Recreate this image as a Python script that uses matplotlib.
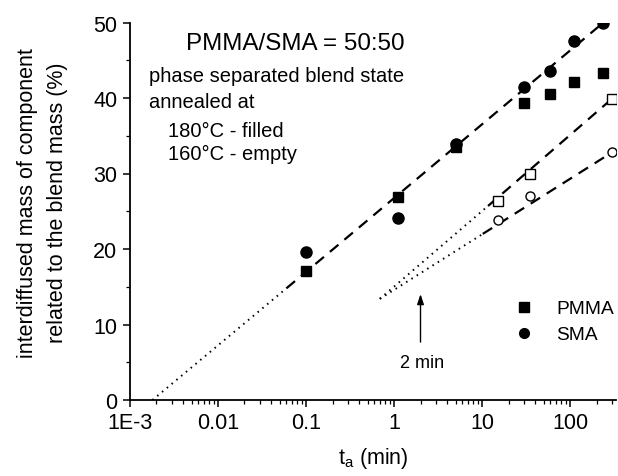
import matplotlib
matplotlib.use("Agg")
import matplotlib.pyplot as plt
from matplotlib.lines import Line2D
from matplotlib.ticker import FixedLocator, LogLocator, NullFormatter, MultipleLocator

plt.rcParams['font.family'] = ['Liberation Sans', 'DejaVu Sans']
plt.rcParams['mathtext.fontset'] = 'custom'
plt.rcParams['mathtext.rm'] = 'Liberation Sans'
plt.rcParams['mathtext.it'] = 'Liberation Sans'

# annealing times (min) and interdiffused mass (%)
t_180 = [0.1, 1.1, 5.0, 30.0, 60.0, 110.0, 240.0]
pmma_180 = [17.1, 26.9, 33.5, 39.3, 40.5, 42.1, 43.3]
sma_180 = [19.6, 24.1, 33.9, 41.4, 43.6, 47.5, 49.9]

t_160 = [15.0, 35.0, 300.0]
pmma_160 = [26.4, 29.9, 39.9]
sma_160 = [23.8, 27.0, 32.8]

# fitted lines: dotted extrapolation + dashed fitted range
fit180_dot_t = [0.0018, 0.06]
fit180_dot_y = [0.0, 14.8]
fit180_dash_t = [0.06, 240.0]
fit180_dash_y = [14.8, 50.0]

fit160p_dot_t = [0.69, 11.7]
fit160p_dot_y = [13.4, 25.7]
fit160p_dash_t = [11.7, 300.0]
fit160p_dash_y = [25.7, 39.9]

fit160s_dot_t = [0.69, 10.2]
fit160s_dot_y = [13.4, 22.0]
fit160s_dash_t = [10.2, 300.0]
fit160s_dash_y = [22.0, 32.8]

x_ticks = [1e-3, 1e-2, 1e-1, 1, 10, 100]
x_ticklabels = ['1E-3', '0.01', '0.1', '1', '10', '100']
y_ticks = [0, 10, 20, 30, 40, 50]

fig = plt.figure(figsize=(6.18, 4.77), dpi=100)
ax = fig.add_axes([130 / 618, 76 / 477, 486 / 618, 377.5 / 477])

dash = dict(color='black', lw=1.6, linestyle=(0, (5, 3.5)), zorder=2)
dot = dict(color='black', lw=1.4, linestyle=(0, (0.8, 2.4)), zorder=2)

ax.plot(fit180_dot_t, fit180_dot_y, **dot)
ax.plot(fit180_dash_t, fit180_dash_y, **dash)
ax.plot(fit160p_dot_t, fit160p_dot_y, **dot)
ax.plot(fit160p_dash_t, fit160p_dash_y, **dash)
ax.plot(fit160s_dot_t, fit160s_dot_y, **dot)
ax.plot(fit160s_dash_t, fit160s_dash_y, **dash)

ax.plot(t_180, pmma_180, 's', color='black', ms=7.5, zorder=3)
ax.plot(t_180, sma_180, 'o', color='black', ms=8, zorder=3)
ax.plot(t_160, pmma_160, 's', mfc='white', mec='black', mew=1.0, ms=6.5, zorder=3)
ax.plot(t_160, sma_160, 'o', mfc='white', mec='black', mew=1.0, ms=6.5, zorder=3)

ax.set_xscale('log')
ax.set_xlim(1e-3, 333)
ax.set_ylim(0, 50)

ax.xaxis.set_major_locator(FixedLocator(x_ticks))
ax.set_xticklabels(x_ticklabels)
ax.xaxis.set_minor_locator(LogLocator(base=10, subs=range(2, 10)))
ax.xaxis.set_minor_formatter(NullFormatter())
ax.yaxis.set_major_locator(FixedLocator(y_ticks))
ax.yaxis.set_minor_locator(MultipleLocator(5))

ax.spines['top'].set_visible(False)
ax.spines['right'].set_visible(False)
for s in ('left', 'bottom'):
    ax.spines[s].set_linewidth(1.3)

ax.tick_params(which='major', direction='out', length=5, width=1.1,
               labelsize=15.5, pad=4)
ax.tick_params(which='minor', direction='out', length=3, width=0.9)

ax.set_xlabel(r't$_\mathrm{a}$ (min)', fontsize=15.5)
ax.xaxis.set_label_coords(0.5, -0.12)
ax.set_ylabel('interdiffused mass of component\nrelated to the blend mass (%)',
              fontsize=15.5, linespacing=1.55)
ax.yaxis.set_label_coords(-0.128, 0.524)

ax.text(0.00433, 46.5, 'PMMA/SMA = 50:50', fontsize=17.4, va='baseline', ha='left')
ax.text(0.00164, 42.3, 'phase separated blend state', fontsize=14.5, va='baseline')
ax.text(0.00164, 38.8, 'annealed at', fontsize=14.5, va='baseline')
ax.text(0.0027, 35.0, '180°C - filled', fontsize=14.5, va='baseline')
ax.text(0.0027, 31.9, '160°C - empty', fontsize=14.5, va='baseline')

ax.annotate('', xy=(2.0, 14.4), xytext=(2.0, 7.3),
            arrowprops=dict(arrowstyle='-|>,head_length=0.6,head_width=0.2',
                            lw=1.0, color='black'))
ax.text(2.1, 5.0, '2 min', fontsize=13, ha='center', va='center')

handles = [Line2D([], [], marker='s', ls='none', color='black', ms=6.5),
           Line2D([], [], marker='o', ls='none', color='black', ms=7)]
ax.legend(handles, ['PMMA', 'SMA'], loc='upper left',
          bbox_to_anchor=(0.79, 0.265), frameon=False, fontsize=13.8,
          handlelength=1.0, handletextpad=1.2, labelspacing=0.45,
          borderpad=0, borderaxespad=0)

fig.savefig('out.png', dpi=100)
